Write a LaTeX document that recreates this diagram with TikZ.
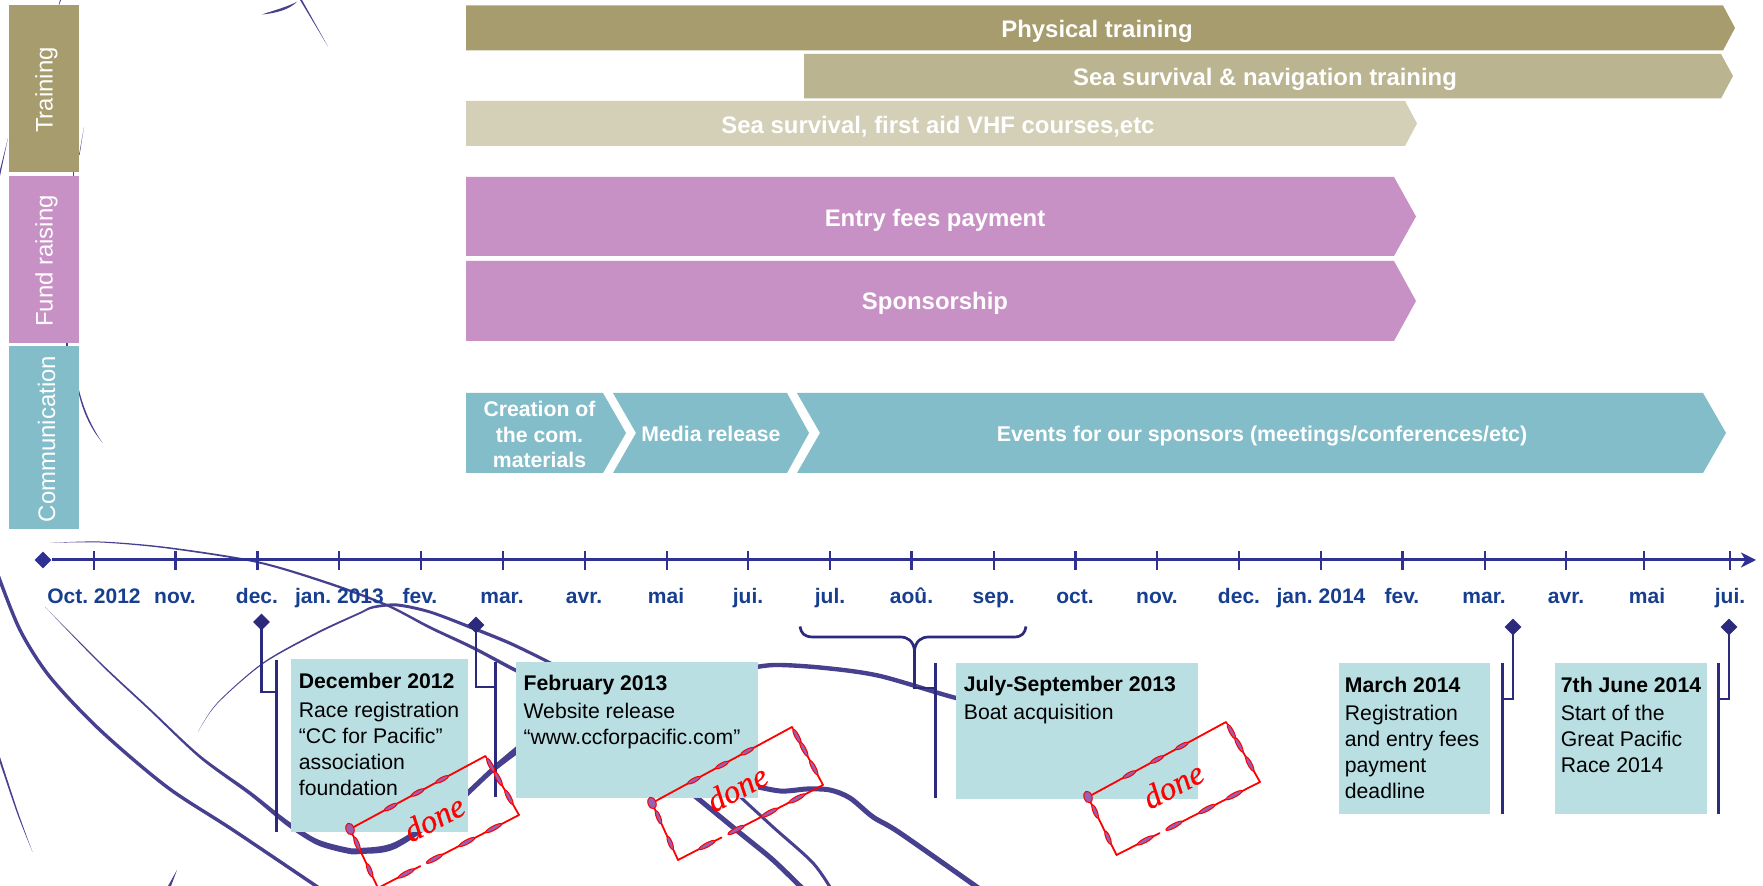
\documentclass[tikz,border=0pt]{standalone}
\usepackage{fontspec}
\setmainfont{Liberation Sans}
\newfontfamily\stampfont[FakeBold=0.5]{Liberation Serif}
\usetikzlibrary{arrows.meta,calc,fit,shapes.geometric}
\definecolor{gold}{HTML}{A69C6D}
\definecolor{goldb}{HTML}{BAB491}
\definecolor{goldc}{HTML}{D4CFB7}
\definecolor{mauve}{HTML}{C791C5}
\definecolor{teal2}{HTML}{83BDC9}
\definecolor{pale}{HTML}{B9DFE3}
\definecolor{axisblue}{HTML}{2E3192}
\definecolor{monthblue}{HTML}{173E8F}
\definecolor{calloutblue}{HTML}{2B2A7C}
\definecolor{swoosh}{HTML}{46408E}
\definecolor{blobfill}{HTML}{9A5FB0}
\frenchspacing
\tikzset{
  side/.style={inner sep=0pt,text=white,rotate=90,font=\fontsize{11.95}{14}\selectfont},
  barlabel/.style={inner sep=0pt,text=white,font=\bfseries\fontsize{11.95}{14}\selectfont},
  chevlabel/.style={inner sep=0pt,text=white,align=center,font=\bfseries\fontsize{10.6}{12.75}\selectfont},
  month/.style={inner sep=0pt,text=monthblue,font=\bfseries\fontsize{10.5}{12}\selectfont},
  boxbg/.style={fill=pale,inner sep=0pt},
  boxtext/.style={inner sep=0pt,anchor=north west,align=left,font=\fontsize{10.6}{13}\selectfont},
  pin/.style={diamond,fill=calloutblue,inner sep=0pt,minimum width=8.5pt,minimum height=8.5pt},
  axisline/.style={axisblue,line width=1.5pt},
  tick/.style={axisblue,line width=1.2pt},
  callout/.style={calloutblue,line width=1.35pt},
  bar/.style={line width=1.5pt,calloutblue},
  sw/.style={fill=swoosh,draw=none},
  sws/.style={draw=swoosh,line cap=round},
  stampline/.style={red,line width=.9pt,line join=round,line cap=round},
  blob/.style={draw=red,line width=.5pt,fill=blobfill},
  stamptext/.style={inner sep=0pt,text=red,font=\stampfont\itshape\fontsize{16.5}{18}\selectfont},
}
\newcommand{\stampbox}[7]{%
  \coordinate (#7A) at (#1); \coordinate (#7B) at (#2);
  \coordinate (#7C) at (#3); \coordinate (#7D) at (#4);
  \draw[stampline] ($(#7B)!.09!(#7C)$) -- (#7C) -- ($(#7C)!.65!(#7D)$);
  \draw[stampline] ($(#7C)!.70!(#7D)$) -- (#7D) -- (#7A) -- (#7B) -- ($(#7B)!.03!(#7C)$);
  \foreach \f in {.3,.5,.68}{
    \draw[blob,rotate around={#6:($(#7A)!\f!(#7B)$)}] ($(#7A)!\f!(#7B)$) ellipse (7 and 2);}
  \foreach \f in {.16,.38,.7}{
    \draw[blob,rotate around={-62:($(#7B)!\f!(#7C)$)}] ($(#7B)!\f!(#7C)$) ellipse (8 and 2);}
  \foreach \f in {.18,.37,.6,.8}{
    \draw[blob,rotate around={#6:($(#7C)!\f!(#7D)$)}] ($(#7C)!\f!(#7D)$) ellipse (9 and 2.1);}
  \foreach \f in {.3,.75}{
    \draw[blob,rotate around={-68:($(#7D)!\f!(#7A)$)}] ($(#7D)!\f!(#7A)$) ellipse (7 and 2);}
  \draw[blob,rotate around={-70:(#7A)}] (#7A) ellipse (6 and 4);
  \node[stamptext,rotate=#6] (#7T) at (#5) {done};
}
\begin{document}
\begin{tikzpicture}[x=0.5pt,y=-0.5pt]
\useasboundingbox (0,0) rectangle (1763,886);
\clip (0,0) rectangle (1763,886);
\fill[white] (0,0) rectangle (1763,886);
% background swooshes
\fill[sw] plot[smooth] coordinates {(50,543) (100,541.5) (167,547) (257,561) (330,582.5) (387,604) (430,626) (473,646) (515,668) (560,690)} -- plot[smooth] coordinates {(560,694) (515,672) (473,649.5) (430,629) (387,606.5) (330,585) (257,563) (167,548.5) (100,542.5) (50,543)} -- cycle;
\fill[sw] plot[smooth] coordinates {(198,732) (217,703) (263,662.5) (317,632) (360,612) (373,606) (397,603.5) (430,610.5) (473,626.5) (510,641.5) (547,659.5) (570,672)} -- plot[smooth] coordinates {(570,676) (547,663) (510,645) (473,630) (430,613.5) (397,606.5) (373,608.5) (360,614) (317,634) (263,664) (217,704) (198,732)} -- cycle;
\fill[sw] plot[smooth] coordinates {(45,607) (100,662) (150,708.5) (200,755) (250,791) (287,820) (317,839) (347,847.5) (360,848) (395,842) (449,806) (494,765) (530,735)} -- plot[smooth] coordinates {(530,745) (494,772) (449,813) (395,849) (360,854) (347,853.5) (317,845) (287,826) (250,795.5) (200,758.5) (150,711) (100,664) (45,607)} -- cycle;
\draw[sws,line width=1.7pt] plot[smooth] coordinates {(-2,575) (20,630) (50,677) (100,730) (167,787) (233,830) (325,892)};
\fill[sw] plot[smooth] coordinates {(0,763) (17,813) (32.5,852)} -- plot[smooth] coordinates {(32.5,852) (18,812) (0,757)} -- cycle;
\fill[sw] (168,886) -- (177,870) -- (171,886) -- cycle;
\draw[sws,line width=2.2pt] plot[smooth] coordinates {(740,670) (774,665) (825,668) (880,676) (956,698) (1000,706)};
\draw[sws,line width=2.5pt] plot[smooth] coordinates {(745,784) (780,791) (807,789) (830,790) (850,798) (873,817) (900,833) (984,892)};
\draw[sws,line width=2.5pt] plot[smooth] coordinates {(690,792) (740,833) (773,860) (806,892)};
\draw[sws,line width=1.5pt] plot[smooth] coordinates {(735,792) (773,827) (813,863) (833,892)};
\fill[sw] (262,14.5) .. controls (275,10) and (287,7) .. (297,1.7) .. controls (290,9) and (278,13) .. (262,14.5) -- cycle;
\fill[sw] (300,0) -- (328,46.5) -- (302,0) -- cycle;
\fill[sw] (61,0) -- (58,8) -- (60,0) -- cycle;
\fill[sw] (8,138) -- (0,176) -- (0,170) -- cycle;
\fill[sw] (84,127) -- (79,155) -- (79.6,155) -- cycle;
\fill[sw] (72.5,170) rectangle (74,178);
\fill[sw] (66,341) rectangle (67.5,349);
\fill[sw] (79,390) .. controls (84,410) and (92,428) .. (102.7,443) .. controls (90,428) and (82,410) .. (78,390) -- cycle;
% left side labels
\fill[gold] (9,5.5) rectangle (79,172);
\fill[mauve] (9,176) rectangle (79,343);
\fill[teal2] (9,346.5) rectangle (79,529);
\node[side] (sideT) at (46.5,90) {Training};
\node[side] (sideF) at (46.5,261) {Fund raising};
\node[side] (sideC) at (46.5,439) {Communication};
% bars
\fill[gold] (466,5.5) -- (1723,5.5) -- (1735,28) -- (1723,50.5) -- (466,50.5) -- cycle;
\fill[goldb] (804,54) -- (1721,54) -- (1733,76) -- (1721,98.5) -- (804,98.5) -- cycle;
\fill[goldc] (466,101) -- (1405,101) -- (1417,123.5) -- (1405,146) -- (466,146) -- cycle;
\fill[mauve] (466,177) -- (1394,177) -- (1416,216.5) -- (1394,256) -- (466,256) -- cycle;
\fill[mauve] (466,261) -- (1394,261) -- (1416,301) -- (1394,341) -- (466,341) -- cycle;
\fill[teal2] (466,393) -- (603,393) -- (626,433) -- (603,473) -- (466,473) -- cycle;
\fill[teal2] (613,393) -- (787,393) -- (809,433) -- (787,473) -- (613,473) -- (636,433) -- cycle;
\fill[teal2] (797,393) -- (1703,393) -- (1726,433) -- (1703,473) -- (797,473) -- (820,433) -- cycle;
\node[barlabel] (b1) at (1097,31.5) {Physical training};
\node[barlabel] (b2) at (1265,79) {Sea survival \& navigation training};
\node[barlabel] (b3) at (938,127) {Sea survival, first aid VHF courses,etc};
\node[barlabel] (b4) at (935,220.5) {Entry fees payment};
\node[barlabel] (b5) at (935,303.5) {Sponsorship};
\node[chevlabel] (c1) at (539.5,434.5) {Creation of\\the com.\\materials};
\node[chevlabel] (c2) at (711,434) {Media release};
\node[chevlabel,font=\bfseries\fontsize{10.7}{12.75}\selectfont] (c3) at (1262,436) {Events for our sponsors (meetings/conferences/etc)};
% time axis
\node[diamond,fill=axisblue,inner sep=0pt,minimum width=8.5pt,minimum height=8.5pt] (axstart) at (43,560) {};
\coordinate (axend) at (1756,560);
\draw[axisline,-{Stealth[length=7.5pt,width=7.5pt,inset=2.2pt]}] (axstart) -- (axend);
\foreach \x in {93.7,175.6,257.6,339,421,502.8,584.7,666.7,748,830,911.5,993.7,1075.4,1157,1239,1321,1402.5,1484.7,1566,1644,1730}{
  \draw[tick] (\x,551.5) -- (\x,570);}
\foreach \x/\t [count=\i] in {94/{Oct. 2012},175/nov.,257/dec.,339.5/{jan. 2013},420/fev.,502/mar.,584/avr.,666/mai,748/jui.,830/jul.,911.5/aoû.,993.7/sep.,1075/oct.,1157/nov.,1239/dec.,1321/{jan. 2014},1402/fev.,1484/mar.,1566/avr.,1647/mai,1730/jui.}{
  \node[month,anchor=base] (m\i) at (\x,604) {\t};}
% callout boxes
\node[boxbg,fit={(291,659) (468,832)}] (bxA) {};
\node[boxbg,fit={(515.7,662) (758,798)}] (bxB) {};
\node[boxbg,fit={(956,663) (1198,799)}] (bxC) {};
\node[boxbg,fit={(1339,663) (1490,814)}] (bxD) {};
\node[boxbg,fit={(1555,663) (1707,814)}] (bxE) {};
\node[boxtext] (txA) at (298.5,673) {\textbf{December 2012}\\[1.2pt]Race registration\\“CC for Pacific”\\association\\foundation};
\node[boxtext] (txB) at (523.2,674.5) {\textbf{February 2013}\\[1.2pt]Website release\\“www.ccforpacific.com”};
\node[boxtext] (txC) at (963.5,675.5) {\textbf{July-September 2013}\\[1.2pt]Boat acquisition};
\node[boxtext] (txD) at (1344.5,676.5) {\textbf{March 2014}\\[1.2pt]Registration\\and entry fees\\payment\\deadline};
\node[boxtext] (txE) at (1560.5,676.5) {\textbf{7th June 2014}\\[1.2pt]Start of the\\Great Pacific\\Race 2014};
% callout bars
\coordinate (barAt) at (276,660); \coordinate (barAb) at (276,832);
\coordinate (barBt) at (495.5,662); \coordinate (barBb) at (495.5,797);
\coordinate (barCt) at (935.7,663); \coordinate (barCb) at (935.7,798);
\coordinate (barDt) at (1502,663); \coordinate (barDb) at (1502,814);
\coordinate (barEt) at (1718,663); \coordinate (barEb) at (1718,814);
\foreach \b in {A,B,C,D,E}{\draw[bar] (bar\b t) -- (bar\b b);}
\node[pin] (pinA) at (261.5,622) {};
\node[pin] (pinB) at (476,625) {};
\node[pin] (pinD) at (1513,627) {};
\node[pin] (pinE) at (1729,627) {};
\coordinate (jointA) at (276,692);
\coordinate (jointB) at (495.5,687);
\coordinate (jointC) at (935.7,688);
\coordinate (jointD) at (1502,699);
\coordinate (jointE) at (1718,699);
\draw[callout] (pinA.center) |- (jointA);
\draw[callout] (pinB.center) |- (jointB);
\draw[callout] (pinD.center) |- (jointD);
\draw[callout] (pinE.center) |- (jointE);
% brace
\coordinate (braceL) at (800,626.5);
\coordinate (braceR) at (1026,626.5);
\coordinate (braceM) at (914.5,650);
\draw[callout] (braceL) .. controls (801,633) and (804,637) .. (813,637) -- (900,637) .. controls (908,637) and (913,641) .. (braceM) .. controls (916,641) and (921,637) .. (929,637) -- (1014,637) .. controls (1022,637) and (1025,633) .. (braceR);
\draw[callout] (braceM) |- (jointC);
% stamps
\stampbox{350,829}{485.4,756}{519,815}{378,888}{434,818}{28}{st1}
\stampbox{652,803}{792,727}{823,785}{678,860}{737,788}{28}{st2}
\stampbox{1088,797}{1226,722}{1260,782}{1116.5,855}{1173,785}{28}{st3}
\end{tikzpicture}
\end{document}
